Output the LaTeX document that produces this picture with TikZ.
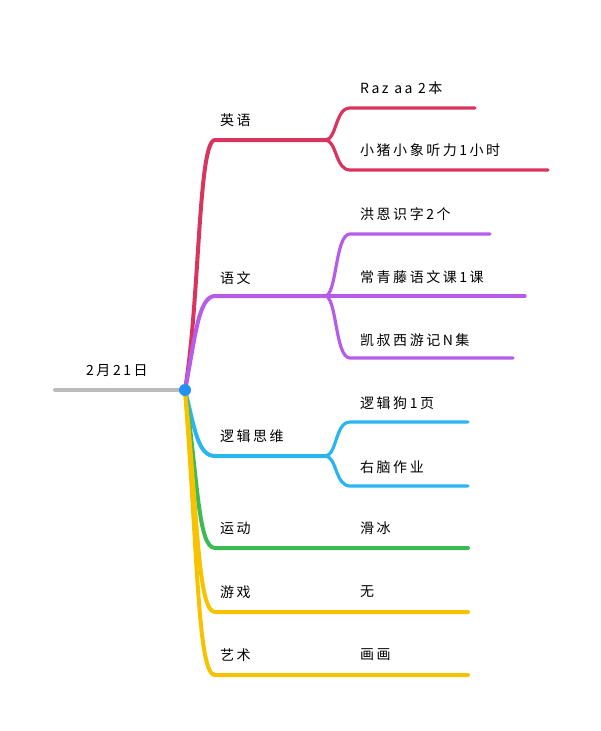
\documentclass[tikz,border=0pt]{standalone}
\usepackage{fontspec}
\newfontfamily\cjk[LetterSpace=18]{Noto Sans CJK SC}
\definecolor{cred}{HTML}{D9345E}
\definecolor{cpur}{HTML}{B65CE8}
\definecolor{cblu}{HTML}{2BB5EF}
\definecolor{cgrn}{HTML}{3CBA54}
\definecolor{cyel}{HTML}{F7C300}
\definecolor{cgry}{HTML}{BBBBBB}
\begin{document}
\begin{tikzpicture}[x=1pt,y=-1pt,line cap=round,
  br/.style={line width=4pt},
  sb/.style={line width=3.2pt},
  lbl/.style={font=\cjk\fontsize{14}{16}\selectfont,inner sep=0pt,anchor=west}]
\useasboundingbox (0,0) rectangle (601,731);
% root
\coordinate (r0) at (55,390); \coordinate (rc) at (185,390);
\draw[cgry,br] (r0) -- (rc);
\node[lbl] (rl) at (86,371) {2月21日};
% English
\coordinate (e1) at (215,140); \coordinate (e2) at (325,140);
\draw[cred,br] (rc) .. controls (200,300) and (198,140) .. (e1) -- (e2);
\node[lbl] (el) at (220,120) {英语};
\coordinate (e3) at (350,108); \coordinate (e4) at (475,108);
\coordinate (e5) at (350,170); \coordinate (e6) at (548,170);
\draw[cred,sb] (e2) .. controls (337,140) and (335,108) .. (e3) -- (e4);
\draw[cred,sb] (e2) .. controls (337,140) and (335,170) .. (e5) -- (e6);
\node[lbl] (ea) at (360,88) {Raz aa 2本};
\node[lbl] (eb) at (360,150) {小猪小象听力1小时};
% Chinese
\coordinate (c1) at (215,296); \coordinate (c2) at (325,296);
\draw[cpur,br] (rc) .. controls (195,340) and (198,296) .. (c1) -- (c2);
\node[lbl] (cl) at (220,278) {语文};
\coordinate (c3) at (350,234); \coordinate (c4) at (490,234);
\coordinate (c5) at (525,296);
\coordinate (c6) at (350,358); \coordinate (c7) at (513,358);
\draw[cpur,sb] (c2) .. controls (337,296) and (335,234) .. (c3) -- (c4);
\draw[cpur,sb] (c2) -- (c5);
\draw[cpur,sb] (c2) .. controls (337,296) and (335,358) .. (c6) -- (c7);
\node[lbl] (ca) at (360,214) {洪恩识字2个};
\node[lbl] (cb) at (360,277) {常青藤语文课1课};
\node[lbl] (cc) at (360,340) {凯叔西游记N集};
% Logic
\coordinate (l1) at (215,456); \coordinate (l2) at (325,456);
\draw[cblu,br] (rc) .. controls (195,430) and (198,456) .. (l1) -- (l2);
\node[lbl] (ll) at (220,436) {逻辑思维};
\coordinate (l3) at (350,422); \coordinate (l4) at (468,422);
\coordinate (l5) at (350,486); \coordinate (l6) at (468,486);
\draw[cblu,sb] (l2) .. controls (337,456) and (335,422) .. (l3) -- (l4);
\draw[cblu,sb] (l2) .. controls (337,456) and (335,486) .. (l5) -- (l6);
\node[lbl] (la) at (360,403) {逻辑狗1页};
\node[lbl] (lb) at (360,467) {右脑作业};
% Sport
\coordinate (s1) at (215,548); \coordinate (s2) at (468,548);
\draw[cgrn,br] (rc) .. controls (198,480) and (198,548) .. (s1) -- (s2);
\node[lbl] (sl) at (220,528) {运动};
\node[lbl] (sa) at (360,528) {滑冰};
% Games
\coordinate (g1) at (215,612); \coordinate (g2) at (468,612);
\draw[cyel,br] (rc) .. controls (198,520) and (198,612) .. (g1) -- (g2);
\node[lbl] (gl) at (220,592) {游戏};
\node[lbl] (ga) at (360,592) {无};
% Art
\coordinate (a1) at (215,675); \coordinate (a2) at (468,675);
\draw[cyel,br] (rc) .. controls (198,560) and (198,675) .. (a1) -- (a2);
\node[lbl] (al) at (220,655) {艺术};
\node[lbl] (aa) at (360,655) {画画};
% dot
\fill[cblu!80!blue] (rc) circle (6);
\end{tikzpicture}
\end{document}
